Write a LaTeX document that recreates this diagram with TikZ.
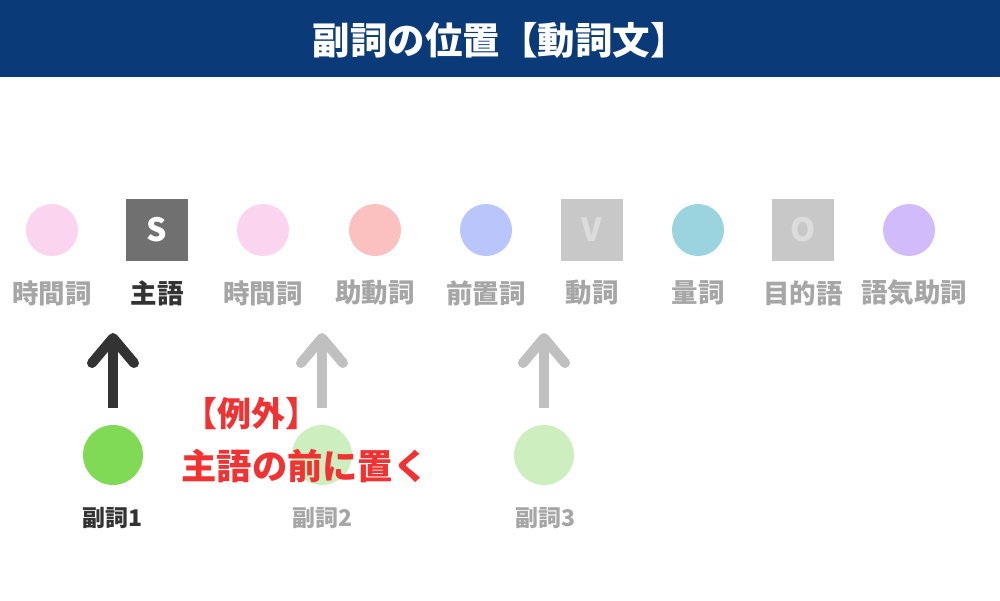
\documentclass[tikz,border=0pt]{standalone}
\usepackage{fontspec}
\setmainfont{Noto Sans CJK JP}
\usepackage{tikz}
\usetikzlibrary{arrows.meta}
\definecolor{titleblue}{HTML}{0B3A78}
\definecolor{labelgray}{HTML}{A6A6A6}
\definecolor{darktext}{HTML}{333333}
\definecolor{pinkc}{HTML}{FBD5EF}
\definecolor{redc}{HTML}{FBC0C0}
\definecolor{bluec}{HTML}{BAC6FB}
\definecolor{cyanc}{HTML}{9BD3DF}
\definecolor{purplec}{HTML}{D2BBFB}
\definecolor{darkbox}{HTML}{707070}
\definecolor{lightbox}{HTML}{C8C8C8}
\definecolor{boxtext}{HTML}{DCDCDC}
\definecolor{greenc}{HTML}{80DA55}
\definecolor{lightgreen}{HTML}{CDEFBF}
\definecolor{arrowgray}{HTML}{C0C0C0}
\definecolor{alertred}{HTML}{F03232}

\begin{document}
\begin{tikzpicture}[x=1pt,y=-1pt,font=\bfseries]
\tikzstyle{every node}=[inner sep=0pt];
\tikzstyle{dot}=[circle,minimum size=52pt];
\tikzstyle{sq}=[rectangle,minimum size=62pt,font=\fontsize{32pt}{32pt}\bfseries];
\tikzstyle{lbl}=[text=labelgray,font=\fontsize{26.5pt}{26.5pt}\bfseries];
\tikzstyle{adv}=[circle,minimum size=60pt];
\tikzstyle{advlbl}=[text=labelgray,font=\fontsize{23pt}{23pt}\bfseries];
\tikzstyle{up}=[line width=10pt,-{Straight Barb[length=25pt,width=42pt,round]}];

\useasboundingbox (0,0) rectangle (1000,600);
\fill[titleblue] (0,0) rectangle (1000,77);
\node[text=white,font=\fontsize{37.5pt}{37.5pt}\bfseries] (title) at (500,40) {副詞の位置【動詞文】};

% sentence slots
\node[dot,fill=pinkc] (t1) at (52,230) {};
\node[sq,fill=darkbox,text=white] (s) at (157,230) {S};
\node[dot,fill=pinkc] (t2) at (263,230) {};
\node[dot,fill=redc] (aux) at (375,230) {};
\node[dot,fill=bluec] (prep) at (486,230) {};
\node[sq,fill=lightbox,text=boxtext] (v) at (592,230) {V};
\node[dot,fill=cyanc] (cl) at (698,230) {};
\node[sq,fill=lightbox,text=boxtext] (o) at (803,230) {O};
\node[dot,fill=purplec] (part) at (909,230) {};

\node[lbl] (t1l) at (52,293) {時間詞};
\node[lbl,text=darktext] (sl) at (157,293) {主語};
\node[lbl] (t2l) at (263,293) {時間詞};
\node[lbl] (auxl) at (375,293) {助動詞};
\node[lbl] (prepl) at (486,293) {前置詞};
\node[lbl] (vl) at (592,293) {動詞};
\node[lbl] (cll) at (698,293) {量詞};
\node[lbl] (ol) at (803,293) {目的語};
\node[lbl] (partl) at (914,293) {語気助詞};

% adverbs
\node[adv,fill=greenc] (a1) at (113,455) {};
\node[adv,fill=lightgreen] (a2) at (322,455) {};
\node[adv,fill=lightgreen] (a3) at (544,455) {};
\node[advlbl,text=darktext] (a1l) at (113,518) {副詞1};
\node[advlbl] (a2l) at (322,518) {副詞2};
\node[advlbl] (a3l) at (545,518) {副詞3};

\coordinate (a1s) at (113,408);
\coordinate (a1e) at (113,333);
\coordinate (a2s) at (322,408);
\coordinate (a2e) at (322,333);
\coordinate (a3s) at (544,408);
\coordinate (a3e) at (544,333);
\draw[up,darktext] (a1s) -- (a1e);
\draw[up,arrowgray] (a2s) -- (a2e);
\draw[up,arrowgray] (a3s) -- (a3e);

% exception note
\node[text=alertred,font=\fontsize{34pt}{34pt}\bfseries] (ex) at (251,414) {【例外】};
\node[text=alertred,font=\fontsize{35.3pt}{35.3pt}\bfseries] (exnote) at (305,466) {主語の前に置く};
\end{tikzpicture}
\end{document}
